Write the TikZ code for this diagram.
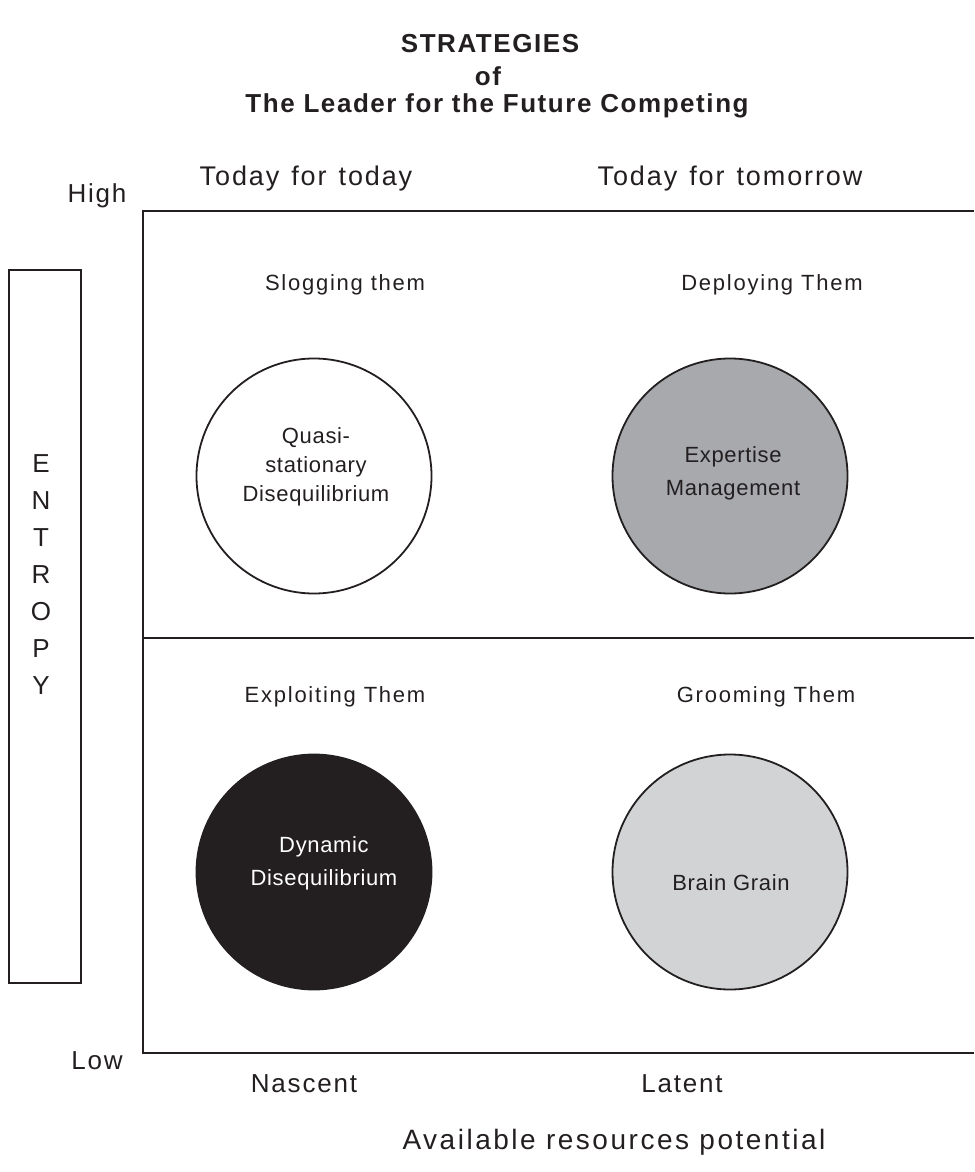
\documentclass[tikz,border=0pt]{standalone}
\usepackage{fontspec}
\setmainfont{Liberation Sans}
\newcommand{\spaced}[2]{\fontsize{#1}{#1}\selectfont\addfontfeatures{LetterSpace=#2}}
\newcommand{\headfont}{\spaced{27}{7}\spaceskip 12pt\relax}
\begin{document}
\begin{tikzpicture}[x=1pt,y=-1pt,
  ink/.style={draw=inkc,line width=2.4pt},
  axislbl/.style={font=\spaced{26}{7},text=inkc,inner sep=0pt},
  headlbl/.style={font=\headfont,text=inkc,inner sep=0pt},
  quadlbl/.style={font=\spaced{22}{8},text=inkc,inner sep=0pt},
  disc/.style={circle,draw=inkc,line width=1.8pt,minimum size=235pt,inner sep=0pt},
  disctext/.style={font=\spaced{22}{3},align=center,inner sep=0pt},
  titlelbl/.style={font=\bfseries\spaced{26}{6},text=inkc,inner sep=0pt}]
\definecolor{inkc}{HTML}{231F20}
\definecolor{midgray}{HTML}{A7A9AC}
\definecolor{lightgray}{HTML}{D1D3D4}
\useasboundingbox (0,0) rectangle (974,1172);

% title
\node[titlelbl] (t1) at (490,44) {STRATEGIES};
\node[titlelbl] (t2) at (488,76) {of};
\node[titlelbl] (t3) at (497,106) {The Leader for the Future Competing};

% axis frame, open on the right
\coordinate (tl) at (143,211);
\coordinate (tr) at (974,211);
\coordinate (bl) at (143,1053);
\coordinate (br) at (974,1053);
\coordinate (ml) at (143,638);
\coordinate (mr) at (974,638);
\draw[ink] (tr) -- (tl) -- (bl) -- (br);
\draw[ink] (ml) -- (mr);

% vertical label box
\node[draw=inkc,line width=2.2pt,minimum width=72pt,minimum height=713pt,inner sep=0pt] (ebox) at (45,626.5) {};
\node[font=\fontsize{26}{37}\selectfont,text=inkc,align=center,inner sep=0pt] (entropy) at (41,575) {E\\N\\T\\R\\O\\P\\Y};

% axis labels
\node[axislbl] (high) at (97,196) {High};
\node[axislbl] (low) at (97,1061) {Low};
\node[headlbl] (ctl) at (306,179) {Today for today};
\node[headlbl] (ctr) at (730,179) {Today for tomorrow};
\node[axislbl] (nascent) at (304,1084) {Nascent};
\node[axislbl] (latent) at (682,1084) {Latent};
\node[font=\spaced{28}{9},text=inkc,inner sep=0pt] (avail) at (614,1142) {Available resources potential};

% quadrant captions
\node[quadlbl] (q1) at (345,285) {Slogging them};
\node[quadlbl] (q2) at (772,285) {Deploying Them};
\node[quadlbl] (q3) at (335,697) {Exploiting Them};
\node[quadlbl] (q4) at (766,697) {Grooming Them};

% quadrant discs
\node[disc,fill=white] (d1) at (314,476) {};
\node[disc,fill=midgray] (d2) at (730,476) {};
\node[disc,fill=inkc] (d3) at (314,872) {};
\node[disc,fill=lightgray] (d4) at (730,872) {};

\node[disctext,text=inkc] (d1t) at (316,467) {Quasi-\\[7pt]stationary\\[7pt]Disequilibrium};
\node[disctext,text=inkc] (d2t) at (733,473) {Expertise\\[11pt]Management};
\node[disctext,text=white] (d3t) at (324,863) {Dynamic\\[11pt]Disequilibrium};
\node[disctext,text=inkc] (d4t) at (731,883) {Brain Grain};
\end{tikzpicture}
\end{document}
